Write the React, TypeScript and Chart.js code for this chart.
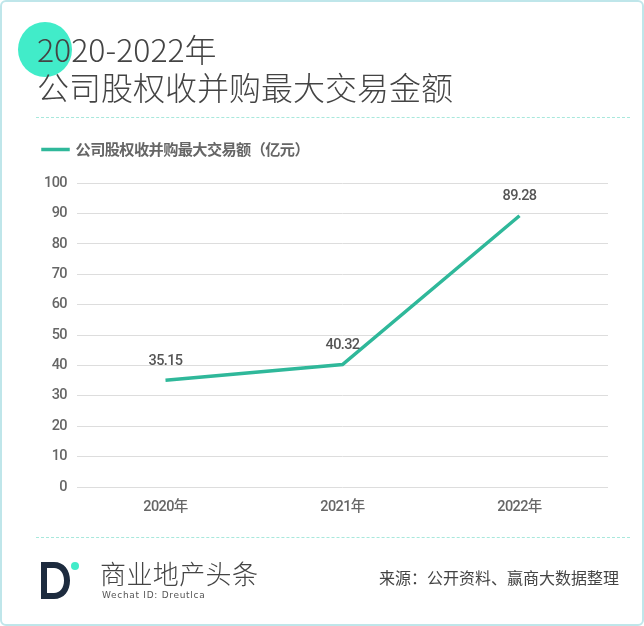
import { useEffect, useRef } from "react"
import { Chart, registerables } from "chart.js"

Chart.register(...registerables)

const years = ["2020年", "2021年", "2022年"]
const dealValues = [35.15, 40.32, 89.28]
const seriesName = "公司股权收并购最大交易额（亿元）"

const cjk = '"Noto Sans CJK SC", sans-serif'
const numeric = 'Roboto, "Noto Sans CJK SC", sans-serif'
const tightSpacing = "-0.6px"

// draws the number above each point
const valueLabels = {
  id: "valueLabels",
  afterDatasetsDraw(chart: Chart) {
    const { ctx } = chart
    const points = chart.getDatasetMeta(0).data
    ctx.save()
    ctx.font = `500 14.5px ${numeric}`
    ctx.fillStyle = "#555555"
    ctx.textAlign = "center"
    ctx.textBaseline = "bottom"
    points.forEach((p, i) => {
      ctx.fillText(dealValues[i].toFixed(2), p.x, p.y - 12)
    })
    ctx.restore()
  },
}

// leaves extra room between the legend and the plot
const legendGap = {
  id: "legendGap",
  beforeInit(chart: any) {
    const fit = chart.legend.fit
    chart.legend.fit = function () {
      fit.call(this)
      this.height += 16
    }
  },
}

// the reference's digits are narrower than Roboto, so tighten the canvas text
const narrowText = {
  id: "narrowText",
  beforeUpdate(chart: any) {
    chart.ctx.letterSpacing = tightSpacing
  },
  beforeDraw(chart: any) {
    chart.ctx.letterSpacing = tightSpacing
  },
}

export default function App() {
  const chartRef = useRef<HTMLCanvasElement>(null)

  useEffect(() => {
    if (!chartRef.current) return
    const chart = new Chart(chartRef.current, {
      type: "line",
      data: {
        labels: years,
        datasets: [
          {
            label: seriesName,
            data: dealValues,
            borderColor: "#2fb89a",
            backgroundColor: "#2fb89a",
            borderWidth: 3.5,
            pointRadius: 0,
            tension: 0,
          },
        ],
      },
      options: {
        responsive: false,
        animation: false,
        layout: { padding: { left: 36, right: 36, top: 135, bottom: 106 } },
        plugins: {
          tooltip: { enabled: false },
          legend: {
            position: "top",
            align: "start",
            onClick: () => {},
            labels: {
              boxWidth: 25,
              boxHeight: 0.01,
              color: "#666666",
              font: { family: cjk, size: 15.2, weight: "bold" },
              padding: 7,
            },
          },
        },
        scales: {
          x: {
            offset: true,
            grid: { display: false },
            border: { display: false },
            ticks: { color: "#666666", font: { family: numeric, size: 14.5, weight: 500 }, padding: 4 },
            afterFit: (axis) => {
              axis.height = 33
            },
          },
          y: {
            min: 0,
            max: 100,
            grid: { color: "#dddddd", lineWidth: 1, drawTicks: false },
            border: { display: false },
            ticks: { stepSize: 10, color: "#666666", font: { family: numeric, size: 14.5, weight: 500 }, padding: 10 },
            afterFit: (axis) => {
              axis.width = 41
            },
          },
        },
      },
      plugins: [valueLabels, legendGap, narrowText],
    })
    return () => chart.destroy()
  }, [])

  return (
    <div style={{ position: "fixed", left: 0, top: 0, width: 644, height: 626, background: "#fff", overflow: "hidden" }}>
      <div style={{ position: "absolute", left: 0, top: 0, width: 640, height: 622, border: "2px solid #bfe6ea", borderRadius: 6 }} />
      <div style={{ position: "absolute", left: 18, top: 22, width: 54, height: 55, borderRadius: "50%", background: "#41ecc9" }} />
      <canvas ref={chartRef} width={644} height={626} style={{ position: "absolute", left: 0, top: 0 }} />
      <div style={{ position: "absolute", left: 37, top: 29, fontFamily: cjk, fontWeight: 300, fontSize: 32, lineHeight: "38px", color: "#444", whiteSpace: "nowrap" }}>
        2020-2022年
        <br />
        公司股权收并购最大交易金额
      </div>
      <div style={{ position: "absolute", left: 36, top: 117, width: 594, borderTop: "1px dashed #a8e8dc" }} />
      <div style={{ position: "absolute", left: 36, top: 537, width: 594, borderTop: "1px dashed #a8e8dc" }} />
      <svg style={{ position: "absolute", left: 40, top: 560 }} width={40} height={42}>
        <path fillRule="evenodd" fill="#1d2b3e" d="M1 2h13c10 0 16 8 16 18.500s-6 18.500-16 18.500H1zM7 8v25h7c6 0 10-5 10-12.500S20 8 14 8z" />
        <circle cx={35} cy={6} r={4} fill="#41ecc9" />
      </svg>
      <div style={{ position: "absolute", left: 100, top: 557, fontFamily: cjk, fontWeight: 300, fontSize: 26, lineHeight: "32px", letterSpacing: 0.4, color: "#444", whiteSpace: "nowrap" }}>
        商业地产头条
      </div>
      <div style={{ position: "absolute", left: 102, top: 589, fontFamily: '"DejaVu Sans", sans-serif', fontSize: 9, lineHeight: "12px", letterSpacing: 0.7, color: "#555", whiteSpace: "nowrap" }}>
        Wechat ID: Dreutlca
      </div>
      <div style={{ position: "absolute", left: 379, top: 566, fontFamily: cjk, fontSize: 16, lineHeight: "22px", color: "#444", whiteSpace: "nowrap" }}>
        来源：公开资料、赢商大数据整理
      </div>
    </div>
  )
}
